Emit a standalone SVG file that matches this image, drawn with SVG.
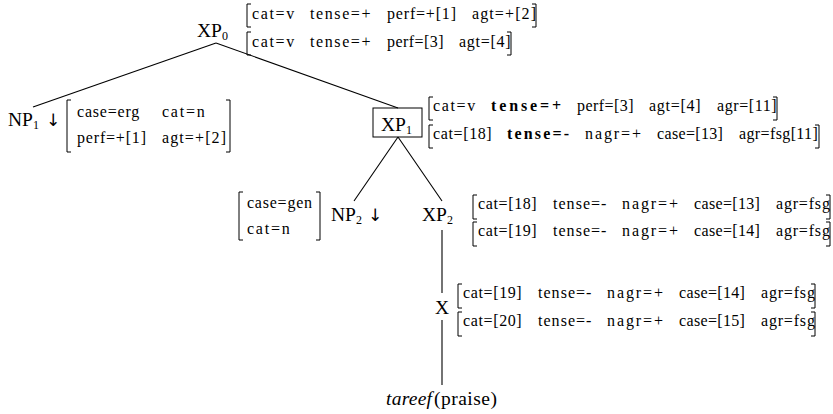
<svg xmlns="http://www.w3.org/2000/svg" width="833" height="414" viewBox="0 0 833 414">
<style>
text{font-family:"Liberation Serif","Times New Roman",serif;fill:#000}
.f{font-size:16px}
.n{font-size:19.5px}
.b{font-weight:bold}
.s{font-size:12px}
.ar{font-family:"DejaVu Sans","Noto Sans",sans-serif;font-size:17px;fill:#000}
.br{fill:none;stroke:#000;stroke-width:1}
.e{fill:none;stroke:#000;stroke-width:1.1}
</style>
<rect width="833" height="414" fill="#fff"/>
<g id="connectors">
<line class="e" x1="216" y1="43" x2="33" y2="107"/>
<line class="e" x1="216" y1="43" x2="398" y2="108"/>
<line class="e" x1="398" y1="137" x2="354" y2="201"/>
<line class="e" x1="398" y1="137" x2="442" y2="201"/>
<line class="e" x1="442" y1="230" x2="442" y2="293"/>
<line class="e" x1="442" y1="320" x2="442" y2="385"/>
</g>
<g id="xp0">
<text class="n" x="197" y="37">XP<tspan class="s" dy="3">0</tspan></text>
<path class="br" d="M251 4H247V27H251M532 4H536V27H532"/>
<text class="f" x="252" y="19" textLength="42.2">cat=v</text>
<text class="f" x="310" y="19" textLength="60.5">tense=+</text>
<text class="f" x="387" y="19" textLength="69">perf=+[1]</text>
<text class="f" x="472" y="19" textLength="64">agt=+[2]</text>
<path class="br" d="M251 32H247V55H251M507 32H511V55H507"/>
<text class="f" x="252" y="47" textLength="42.2">cat=v</text>
<text class="f" x="310" y="47" textLength="60.5">tense=+</text>
<text class="f" x="387" y="47" textLength="56.5">perf=[3]</text>
<text class="f" x="459" y="47" textLength="51.6">agt=[4]</text>
</g>
<g id="np1">
<text class="n" x="8" y="126">NP<tspan class="s" dy="3">1</tspan></text>
<text class="ar" x="46" y="126">&#x2193;&#xFE0E;</text>
<path class="br" d="M71 100H67V152H71M226 100H230V152H226"/>
<text class="f" x="77" y="117" textLength="62.3">case=erg</text>
<text class="f" x="162" y="117" textLength="42.7">cat=n</text>
<text class="f" x="77" y="143" textLength="69">perf=+[1]</text>
<text class="f" x="162" y="143" textLength="64">agt=+[2]</text>
</g>
<g id="xp1">
<rect x="373" y="108" width="49" height="29" fill="none" stroke="#000" stroke-width="1"/>
<text class="n" x="381" y="131">XP<tspan class="s" dy="3">1</tspan></text>
<path class="br" d="M433 97H429V120H433M773 97H777V120H773"/>
<text class="f" x="433" y="111" textLength="42.2">cat=v</text>
<text class="f b" x="491" y="111" textLength="70">tense=+</text>
<text class="f" x="577" y="111" textLength="56.5">perf=[3]</text>
<text class="f" x="649" y="111" textLength="51.6">agt=[4]</text>
<text class="f" x="717" y="111" textLength="59.6">agr=[11]</text>
<path class="br" d="M433 125H429V148H433M815 125H819V148H815"/>
<text class="f" x="433" y="139" textLength="58.7">cat=[18]</text>
<text class="f b" x="507" y="139" textLength="62">tense=-</text>
<text class="f" x="585" y="139" textLength="56">nagr=+</text>
<text class="f" x="657" y="139" textLength="65.9">case=[13]</text>
<text class="f" x="739" y="139" textLength="78.8">agr=fsg[11]</text>
</g>
<g id="np2">
<path class="br" d="M243 192H239V240H243M316 192H320V240H316"/>
<text class="f" x="247" y="208" textLength="65">case=gen</text>
<text class="f" x="247" y="234" textLength="42.7">cat=n</text>
<text class="n" x="331" y="221">NP<tspan class="s" dy="3">2</tspan></text>
<text class="ar" x="368" y="221">&#x2193;&#xFE0E;</text>
</g>
<g id="xp2">
<text class="n" x="422" y="221">XP<tspan class="s" dy="3">2</tspan></text>
<path class="br" d="M477 195H473V219H477M826 195H830V219H826"/>
<text class="f" x="478" y="209" textLength="58.7">cat=[18]</text>
<text class="f" x="553" y="209" textLength="53.4">tense=-</text>
<text class="f" x="622" y="209" textLength="56">nagr=+</text>
<text class="f" x="694" y="209" textLength="65.9">case=[13]</text>
<text class="f" x="776" y="209" textLength="53.9">agr=fsg</text>
<path class="br" d="M477 222H473V246H477M826 222H830V246H826"/>
<text class="f" x="478" y="236" textLength="58.7">cat=[19]</text>
<text class="f" x="553" y="236" textLength="53.4">tense=-</text>
<text class="f" x="622" y="236" textLength="56">nagr=+</text>
<text class="f" x="694" y="236" textLength="65.9">case=[14]</text>
<text class="f" x="776" y="236" textLength="53.9">agr=fsg</text>
</g>
<g id="x">
<text class="n" x="435" y="314">X</text>
<path class="br" d="M462 284H458V308H462M811 284H815V308H811"/>
<text class="f" x="463" y="298" textLength="58.7">cat=[19]</text>
<text class="f" x="538" y="298" textLength="53.4">tense=-</text>
<text class="f" x="607" y="298" textLength="56">nagr=+</text>
<text class="f" x="679" y="298" textLength="65.9">case=[14]</text>
<text class="f" x="761" y="298" textLength="53.9">agr=fsg</text>
<path class="br" d="M462 312H458V336H462M811 312H815V336H811"/>
<text class="f" x="463" y="326" textLength="58.7">cat=[20]</text>
<text class="f" x="538" y="326" textLength="53.4">tense=-</text>
<text class="f" x="607" y="326" textLength="56">nagr=+</text>
<text class="f" x="679" y="326" textLength="65.9">case=[15]</text>
<text class="f" x="761" y="326" textLength="53.9">agr=fsg</text>
</g>
<g id="tareef">
<text class="n" x="386" y="405" font-style="italic" textLength="46">tareef</text>
<text class="n" x="434" y="405" textLength="63">(praise)</text>
</g>
</svg>
